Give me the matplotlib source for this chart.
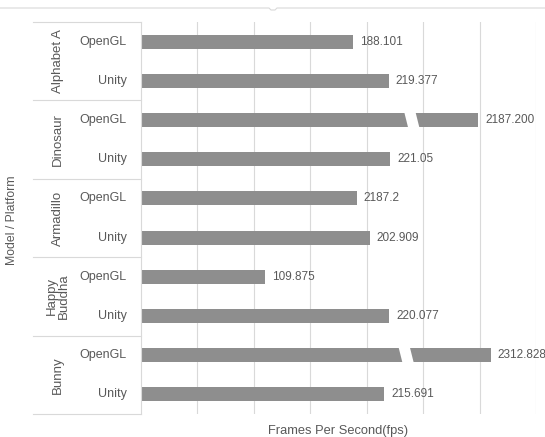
import matplotlib.pyplot as plt
import matplotlib.transforms as mtransforms
from matplotlib.patches import Polygon
from matplotlib.lines import Line2D
import numpy as np

# data, top to bottom
models = ['Alphabet A', 'Dinosaur', 'Armadillo', 'Happy\nBuddha', 'Bunny']
platforms = ['OpenGL', 'Unity'] * 5
fps = [188.101, 219.377, 2187.2, 221.05, 191.5, 202.909, 109.875, 220.077, 2312.828, 215.691]
value_labels = ['188.101', '219.377', '2187.200', '221.05', '2187.2',
                '202.909', '109.875', '220.077', '2312.828', '215.691']
# bars that run off the scale are drawn with a break
shown_max = {2: 299, 8: 310}
break_at = {2: 240, 8: 235}

bar_color = '#8e8e8e'
text_color = '#595959'
line_color = '#d9d9d9'

plt.rcParams['font.family'] = ['Liberation Sans', 'DejaVu Sans']

fig = plt.figure(figsize=(5.45, 4.37), dpi=100)
ax = fig.add_axes([141 / 545, 1 - 414 / 437, 395 / 545, 392 / 437])

y = np.arange(len(fps))
widths = [shown_max.get(i, v) for i, v in enumerate(fps)]
ax.barh(y, widths, height=0.36, color=bar_color, zorder=2)

for i, w in enumerate(widths):
    ax.text(w + 6, y[i], value_labels[i], va='center', ha='left',
            fontsize=8.5, color=text_color)

# break marks
for i, xb in break_at.items():
    h = 0.36 / 2 + 0.05
    poly = Polygon([(xb - 7, y[i] - h), (xb + 3, y[i] - h),
                    (xb + 7, y[i] + h), (xb - 3, y[i] + h)],
                   closed=True, facecolor='white', edgecolor='none', zorder=3)
    ax.add_patch(poly)

ax.set_xlim(0, 350)
ax.set_ylim(len(fps) - 0.5, -0.5)
ax.set_xticks(np.arange(50, 351, 50))
ax.set_yticks([])
ax.tick_params(axis='x', length=0, labelbottom=False)
ax.grid(axis='x', color=line_color, linewidth=0.8, zorder=0)
for s in ['top', 'right', 'bottom']:
    ax.spines[s].set_visible(False)
ax.spines['left'].set_color(line_color)

# category table on the left
trans = mtransforms.blended_transform_factory(ax.transAxes, ax.transData)
x_sub = (127 - 141) / 395
x_grp = (58 - 141) / 395
x_edge = (33 - 141) / 395
for i in y:
    ax.text(x_sub, i, platforms[i], transform=trans, ha='right', va='center',
            fontsize=9, color=text_color)
for g, name in enumerate(models):
    ax.text(x_grp, 2 * g + 0.5, name, transform=trans, ha='center', va='center',
            rotation=90, fontsize=9.5, color=text_color, linespacing=1.0)
for b in np.arange(-0.5, len(fps), 2):
    ax.add_line(Line2D([x_edge, 0], [b, b], transform=trans, color=line_color,
                       linewidth=0.8, clip_on=False))

ax.set_xlabel('Frames Per Second(fps)', fontsize=9.3, color=text_color, labelpad=8)
fig.text(12 / 545, 1 - 220 / 437, 'Model / Platform', rotation=90, ha='center',
         va='center', fontsize=8.8, color=text_color)

# top border line with a small notch
ty = 1 - 8 / 437
dy = 2 / 437
nx = 273 / 545
dx = 4 / 545
fig.add_artist(Line2D([0, nx - dx, nx - dx / 2, nx + dx / 2, nx + dx, 1],
                      [ty, ty, ty - dy, ty - dy, ty, ty], transform=fig.transFigure,
                      color=line_color, linewidth=0.8))

fig.savefig('out.png', dpi=100)
